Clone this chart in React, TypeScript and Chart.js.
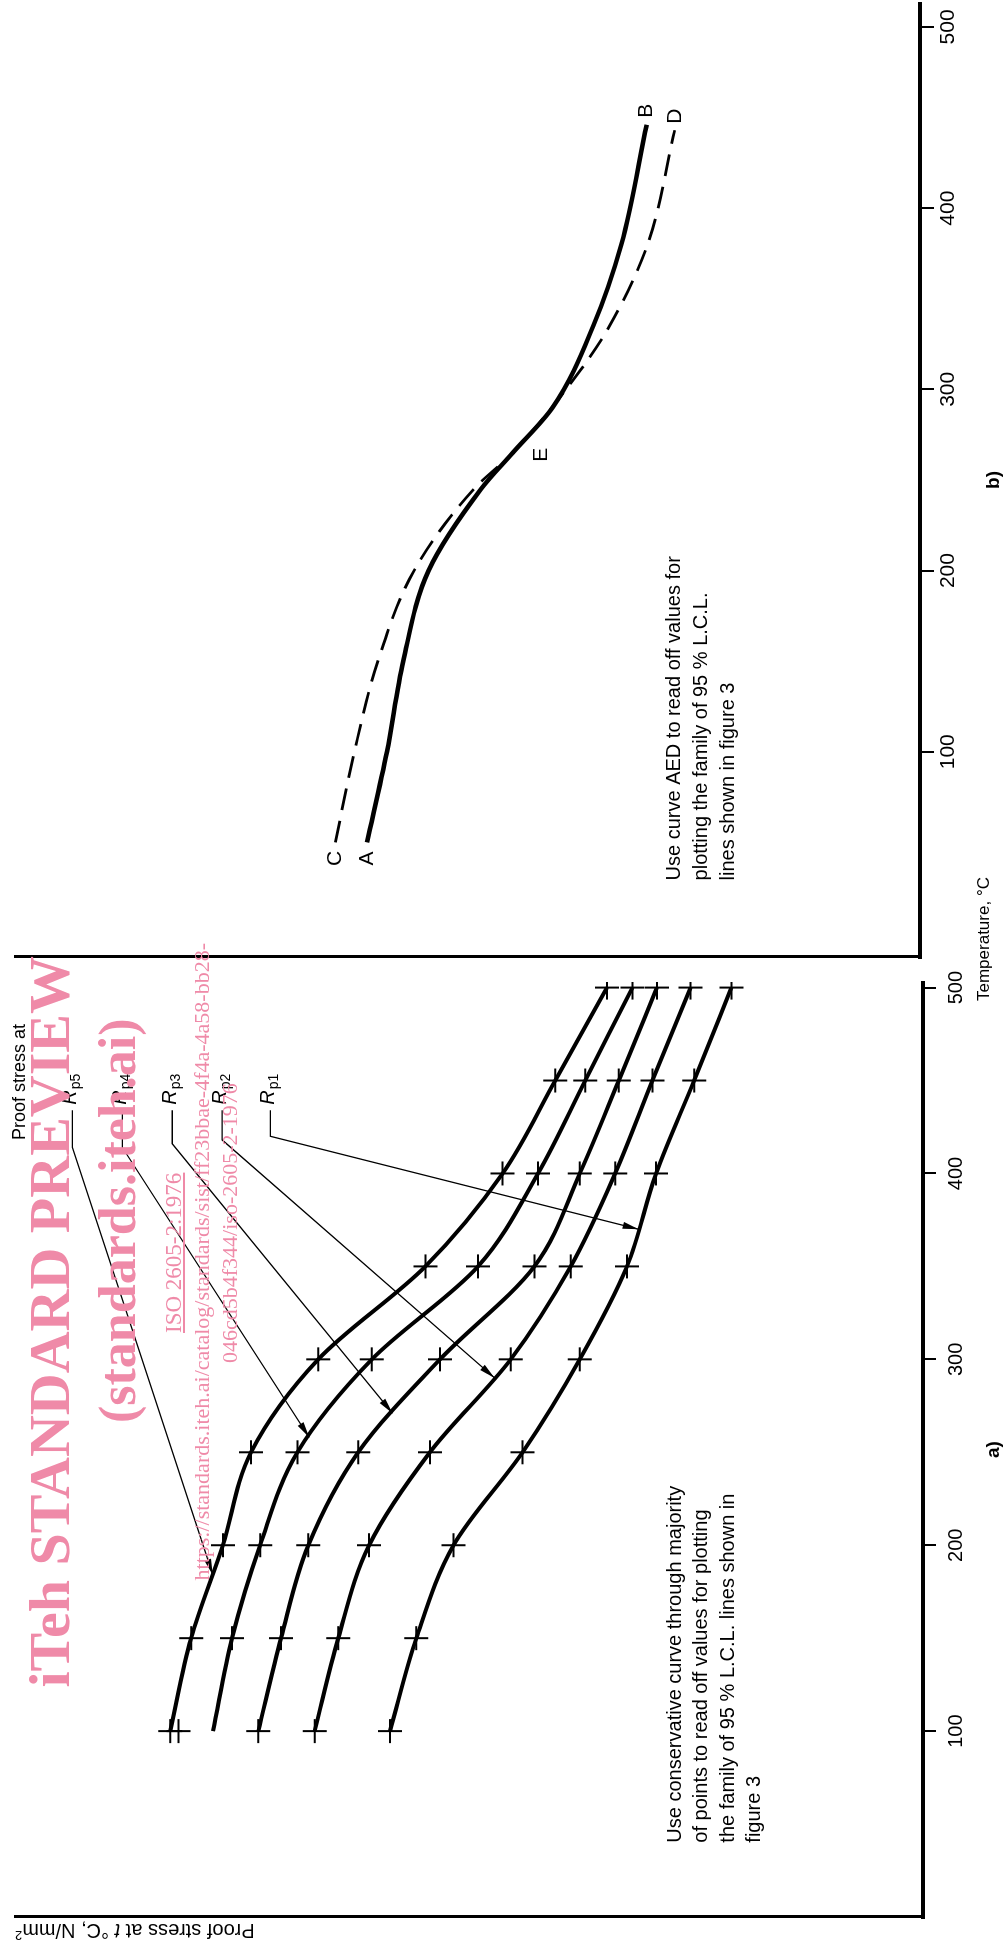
import React, { useEffect, useRef } from 'react';
import { Chart, registerables } from 'chart.js';

Chart.register(...registerables);

const FONT = "'Liberation Sans', Arial, Helvetica, sans-serif";
const NARROW = "'Liberation Sans Narrow', 'Arial Narrow', 'Liberation Sans', Arial, sans-serif";
const SERIF = "'Liberation Serif', 'Times New Roman', serif";

// ---------- Panel a) : proof stress curves (relative stress, 0-100 = axis height) ----------
const tempA = [100, 150, 200, 250, 300, 350, 400, 450, 500];
const rp5Stress = [82.9, 80.6, 77.1, 74.0, 66.6, 54.8, 46.3, 40.5, 34.8];
const rp4Stress = [78.2, 76.1, 73.0, 68.9, 60.7, 49.0, 42.4, 37.2, 32.0];
const rp3Stress = [73.2, 70.7, 67.7, 62.2, 53.2, 42.8, 37.8, 33.5, 29.3];
const rp2Stress = [67.0, 64.4, 61.0, 54.3, 45.4, 38.8, 33.9, 29.8, 25.6];
const rp1Stress = [58.7, 55.8, 51.7, 44.1, 37.8, 32.6, 29.4, 25.2, 21.1];
// which readings carry a "+" marker
const rp5Marks = [1, 1, 1, 1, 1, 1, 1, 1, 1];
const rp4Marks = [0, 1, 1, 1, 1, 1, 1, 1, 1];
const rp3Marks = [1, 1, 1, 1, 1, 1, 1, 1, 1];
const rp2Marks = [1, 1, 1, 1, 1, 1, 1, 1, 1];
const rp1Marks = [1, 1, 1, 1, 1, 1, 1, 1, 1];
// second (doubled) reading at 100 °C on Rp5
const rp5ExtraTemp = [100];
const rp5ExtraStress = [82.0];

const rpNames = ['5', '4', '3', '2', '1'];
const rpLabelStress = [93.9, 88.4, 82.9, 77.4, 72.1];
const rpLabelTemp = 437;
const rpStubTemp = [414, 414, 416, 418, 420];
const rpArrowTemp = [184, 258, 271, 290, 370];

const xTicks = [100, 200, 300, 400, 500];

const noteA = [
  'Use conservative curve through majority',
  'of points to read off values for plotting',
  'the family of 95 % L.C.L. lines shown in',
  'figure 3',
];
const noteB = [
  'Use curve AED to read off values for',
  'plotting the family of 95 % L.C.L.',
  'lines shown in figure 3',
];

// ---------- Panel b) : curves AEB (solid) and CED (dashed) ----------
const tempAEB = [50, 100, 150, 200, 245, 265, 290, 335, 380, 446];
const stressAEB = [61.1, 58.9, 57.1, 54.3, 48.5, 45.0, 40.6, 36.1, 33.0, 30.2];
const tempCED = [50, 100, 150, 200, 245, 265, 310, 335, 380, 443];
const stressCED = [64.6, 62.5, 59.9, 55.9, 49.3, 45.0, 37.6, 34.3, 30.1, 27.1];
const pointE = { t: 265 };

function interp(xs: number[], ys: number[], x: number) {
  for (let i = 0; i < xs.length - 1; i++) {
    if (x >= xs[i] && x <= xs[i + 1]) {
      const f = (x - xs[i]) / (xs[i + 1] - xs[i]);
      return ys[i] + f * (ys[i + 1] - ys[i]);
    }
  }
  return ys[ys.length - 1];
}

function arrowHead(ctx: CanvasRenderingContext2D, fx: number, fy: number, tx: number, ty: number, len: number, hw: number) {
  const a = Math.atan2(ty - fy, tx - fx);
  const bx = tx - len * Math.cos(a);
  const by = ty - len * Math.sin(a);
  ctx.beginPath();
  ctx.moveTo(tx, ty);
  ctx.lineTo(bx + hw * Math.sin(a), by - hw * Math.cos(a));
  ctx.lineTo(bx - hw * Math.sin(a), by + hw * Math.cos(a));
  ctx.closePath();
  ctx.fill();
}

const xAxisCommon = (min: number, max: number, height: number, title: string, tickFont: any, tickLen: number, tickPad: number) => ({
  type: 'linear',
  min,
  max,
  afterFit: (s: any) => { s.height = height; },
  afterBuildTicks: (s: any) => { s.ticks = xTicks.map((v) => ({ value: v })); },
  grid: { drawOnChartArea: false, drawTicks: true, tickLength: tickLen, color: '#000', lineWidth: 2 },
  border: { display: true, color: '#000', width: 4 },
  ticks: { color: '#000', font: tickFont, padding: tickPad, maxRotation: 0, autoSkip: false },
  title: { display: true, text: title, color: '#000', font: { family: FONT, size: 19, weight: 'bold' }, padding: { top: 2, bottom: 0 } },
});

const curveDs = (vals: number[], marks: number[]) => ({
  data: tempA.map((t, i) => ({ x: t, y: vals[i] })),
  borderColor: '#000',
  borderWidth: 4,
  pointStyle: 'cross',
  pointRadius: marks.map((m) => (m ? 12 : 0)),
  pointBorderWidth: 2,
  pointBorderColor: '#000',
  cubicInterpolationMode: 'monotone',
  fill: false,
});

const panelAPlugin = {
  id: 'panelAExtras',
  afterDraw(chart: any) {
    const { ctx, scales: { x, y }, chartArea } = chart;
    ctx.save();
    ctx.fillStyle = '#000';
    ctx.strokeStyle = '#000';
    // y-axis title, reading upwards, ending at top of axis
    const parts: [string, string][] = [
      ['Proof stress at ', `20px ${FONT}`],
      ['t', `italic 20px ${FONT}`],
      [' °C, N/mm', `20px ${FONT}`],
      ['2', `13px ${FONT}`],
    ];
    let total = 0;
    parts.forEach(([t, f]) => { ctx.font = f; total += ctx.measureText(t).width; });
    ctx.translate(13, chartArea.top);
    ctx.rotate(-Math.PI / 2);
    ctx.textBaseline = 'middle';
    let cx = -total;
    parts.forEach(([t, f], i) => {
      ctx.font = f;
      ctx.fillText(t, cx, i === 3 ? -5 : 0);
      cx += ctx.measureText(t).width;
    });
    ctx.restore();

    ctx.save();
    ctx.fillStyle = '#000';
    ctx.strokeStyle = '#000';
    ctx.textBaseline = 'middle';
    // legend heading
    ctx.font = `18px ${FONT}`;
    ctx.fillText('Proof stress at', x.getPixelForValue(418), y.getPixelForValue(99.4));
    // Rp labels with leader lines
    const curves = [rp5Stress, rp4Stress, rp3Stress, rp2Stress, rp1Stress];
    rpNames.forEach((n, i) => {
      const lx = x.getPixelForValue(rpLabelTemp);
      const ly = y.getPixelForValue(rpLabelStress[i]);
      ctx.font = `italic 20px ${FONT}`;
      ctx.fillText('R', lx, ly);
      const w = ctx.measureText('R').width;
      ctx.font = `14px ${FONT}`;
      ctx.fillText('p' + n, lx + w + 1, ly + 6);
      const sx1 = x.getPixelForValue(rpLabelTemp - 3);
      const sx0 = x.getPixelForValue(rpStubTemp[i]);
      const sy = ly + 2;
      const tT = rpArrowTemp[i];
      const tx = x.getPixelForValue(tT);
      const ty = y.getPixelForValue(interp(tempA, curves[i], tT));
      ctx.lineWidth = 1.3;
      ctx.beginPath();
      ctx.moveTo(sx1, sy);
      ctx.lineTo(sx0, sy);
      ctx.lineTo(tx, ty);
      ctx.stroke();
      arrowHead(ctx, sx0, sy, tx, ty, 16, 3.5);
    });
    // note
    ctx.font = `20px ${FONT}`;
    const nx = x.getPixelForValue(40);
    const ny = y.getPixelForValue(27.3);
    noteA.forEach((line, i) => ctx.fillText(line, nx, ny + i * 26.5));
    ctx.restore();
  },
};

const panelBPlugin = {
  id: 'panelBExtras',
  afterDraw(chart: any) {
    const { ctx, scales: { x, y } } = chart;
    ctx.save();
    ctx.fillStyle = '#000';
    ctx.font = `21px ${FONT}`;
    ctx.textBaseline = 'middle';
    ctx.textAlign = 'center';
    const px = (t: number) => x.getPixelForValue(t);
    const py = (v: number) => y.getPixelForValue(v);
    ctx.fillText('A', px(tempAEB[0]) - 16, py(stressAEB[0]));
    ctx.fillText('C', px(tempCED[0]) - 16, py(stressCED[0]));
    ctx.fillText('B', px(tempAEB[tempAEB.length - 1]) + 14, py(stressAEB[stressAEB.length - 1]));
    ctx.fillText('D', px(tempCED[tempCED.length - 1]) + 14, py(stressCED[stressCED.length - 1]));
    ctx.fillText('E', px(pointE.t) - 2, py(interp(tempAEB, stressAEB, pointE.t)) + 28);
    ctx.textAlign = 'left';
    ctx.font = `20px ${FONT}`;
    const nx = px(29);
    const ny = py(27.1);
    noteB.forEach((line, i) => ctx.fillText(line, nx, ny + i * 27));
    ctx.restore();
  },
};

const tickFontA = { family: FONT, size: 20 };
const tickFontB = { family: NARROW, size: 21 };

const configA: any = {
  type: 'line',
  data: {
    datasets: [
      curveDs(rp5Stress, rp5Marks),
      curveDs(rp4Stress, rp4Marks),
      curveDs(rp3Stress, rp3Marks),
      curveDs(rp2Stress, rp2Marks),
      curveDs(rp1Stress, rp1Marks),
      {
        type: 'scatter',
        data: rp5ExtraTemp.map((t, i) => ({ x: t, y: rp5ExtraStress[i] })),
        showLine: false,
        pointStyle: 'cross',
        pointRadius: 12,
        pointBorderWidth: 2,
        pointBorderColor: '#000',
      },
    ],
  },
  options: {
    animation: false,
    responsive: false,
    devicePixelRatio: 1,
    layout: { padding: { top: 15, right: 24, left: 0, bottom: 0 } },
    plugins: { legend: { display: false }, tooltip: { enabled: false } },
    scales: {
      x: xAxisCommon(0, 503, 82, 'a)', tickFontA, 13, 8),
      y: {
        type: 'linear', min: 0, max: 100,
        afterFit: (s: any) => { s.width = 26; },
        grid: { display: false },
        border: { display: true, color: '#000', width: 3 },
        ticks: { display: false },
      },
    },
  },
  plugins: [panelAPlugin],
};

const configB: any = {
  type: 'line',
  data: {
    datasets: [
      {
        data: tempAEB.map((t, i) => ({ x: t, y: stressAEB[i] })),
        borderColor: '#000', borderWidth: 4.5, pointRadius: 0,
        cubicInterpolationMode: 'monotone', fill: false,
      },
      {
        data: tempCED.map((t, i) => ({ x: t, y: stressCED[i] })),
        borderColor: '#000', borderWidth: 2.8, pointRadius: 0, borderDash: [22, 11],
        cubicInterpolationMode: 'monotone', fill: false,
      },
    ],
  },
  options: {
    animation: false,
    responsive: false,
    devicePixelRatio: 1,
    layout: { padding: { top: 15, right: 3, left: 0, bottom: 0 } },
    plugins: { legend: { display: false }, tooltip: { enabled: false } },
    scales: {
      x: xAxisCommon(-13.25, 513.2, 85, 'b)', tickFontB, 14, 2),
      y: {
        type: 'linear', min: 0, max: 100,
        afterFit: (s: any) => { s.width = 11; },
        grid: { display: false },
        border: { display: true, color: '#000', width: 3 },
        ticks: { display: false },
      },
    },
  },
  plugins: [panelBPlugin],
};

const wm = '#ef8aa8';

export default function App() {
  const refA = useRef<HTMLCanvasElement>(null);
  const refB = useRef<HTMLCanvasElement>(null);
  useEffect(() => {
    document.body.style.margin = '0';
    const a = new Chart(refA.current as HTMLCanvasElement, configA);
    const b = new Chart(refB.current as HTMLCanvasElement, configB);
    return () => { a.destroy(); b.destroy(); };
  }, []);
  return (
    <div style={{ position: 'relative', width: 1005, height: 1943, overflow: 'hidden', background: '#fff' }}>
      <div
        style={{
          position: 'absolute', left: 0, top: 0, width: 1943, height: 1005,
          transformOrigin: '0 0', transform: 'translate(0px, 1943px) rotate(-90deg)',
        }}
      >
        <canvas ref={refA} width={985} height={1005} style={{ position: 'absolute', left: 0, top: 0, width: 985, height: 1005 }} />
        <canvas ref={refB} width={968} height={1005} style={{ position: 'absolute', left: 975, top: 0, width: 968, height: 1005 }} />
        <div style={{ position: 'absolute', left: 942, top: 974, font: `17px ${FONT}`, color: '#000', whiteSpace: 'nowrap' }}>
          Temperature, °C
        </div>
        <div style={{ position: 'absolute', left: 0, top: 0, width: 1943, height: 1005, pointerEvents: 'none', color: wm, fontFamily: SERIF }}>
          <div style={{ position: 'absolute', right: 1943 - 987, top: 18, fontSize: 58, fontWeight: 'bold', whiteSpace: 'nowrap', lineHeight: '64px' }}>
            iTeh STANDARD PREVIEW
          </div>
          <div style={{ position: 'absolute', left: 520, top: 88, fontSize: 52, fontWeight: 'bold', whiteSpace: 'nowrap', lineHeight: '60px' }}>
            (standards.iteh.ai)
          </div>
          <div style={{ position: 'absolute', left: 610, top: 160, fontSize: 23, whiteSpace: 'nowrap', textDecoration: 'underline', lineHeight: '28px' }}>
            ISO 2605-2:1976
          </div>
          <div style={{ position: 'absolute', right: 1943 - 1000, top: 188, fontSize: 22, whiteSpace: 'nowrap', lineHeight: '28px' }}>
            https://standards.iteh.ai/catalog/standards/sist/ff23bbae-4f4a-4a58-bb28-
          </div>
          <div style={{ position: 'absolute', left: 580, top: 216, fontSize: 22, whiteSpace: 'nowrap', lineHeight: '28px' }}>
            046cd5b4f344/iso-2605-2-1976
          </div>
        </div>
      </div>
    </div>
  );
}
